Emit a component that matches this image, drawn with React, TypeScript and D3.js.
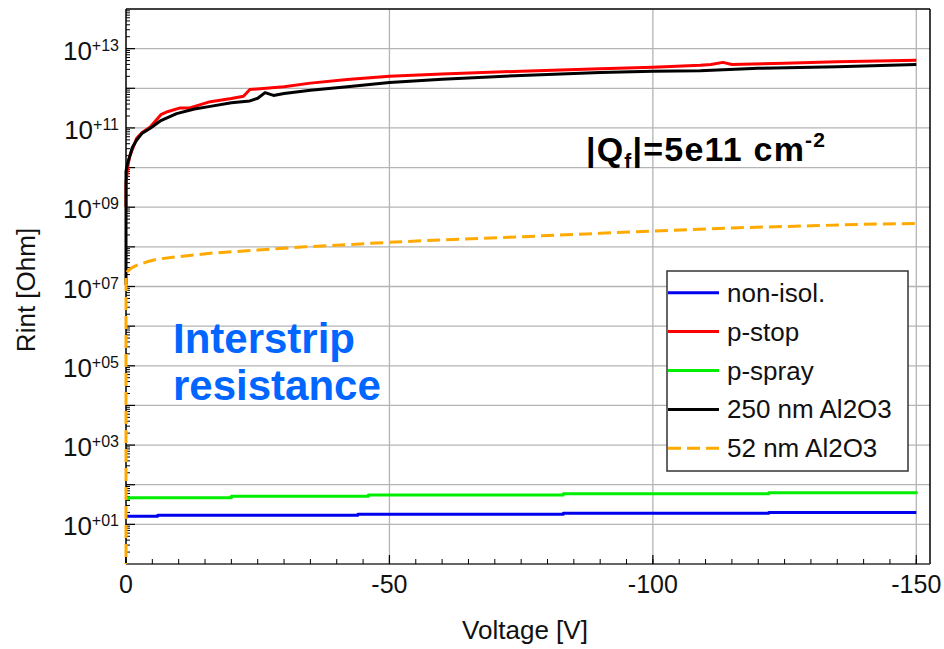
import React from "react";
import * as d3 from "d3";

// ---------- data ----------
const nonIsolV = [0, -6, -44, -83, -122, -150];
const nonIsolR = [16, 17, 18, 19, 20, 20];

const pSprayV = [0, -0.5, -20, -46, -83, -122, -150];
const pSprayR = [44, 47, 51, 55, 59, 63, 67];

const pStopV = [0, 0, -0.3, -0.7, -2, -3, -4.6, -6.7, -8, -10.3, -12.1, -16, -20, -22.3, -23.5, -30, -35, -42, -50, -60, -75, -90, -100, -109, -111, -113.3, -115, -125, -135, -150];
const pStopR = [1e9, 4e9, 1e10, 1.9e10, 5.4e10, 7.6e10, 1.05e11, 2.2e11, 2.6e11, 3.2e11, 3.2e11, 4.6e11, 5.5e11, 6.3e11, 9.3e11, 1.1e12, 1.35e12, 1.66e12, 2.0e12, 2.3e12, 2.7e12, 3.1e12, 3.4e12, 3.8e12, 4.0e12, 4.5e12, 4.0e12, 4.3e12, 4.7e12, 5.1e12];

const al250V = [0, 0, -0.3, -0.7, -1.2, -2, -3, -4.6, -6.5, -9.6, -13, -16, -20, -23.5, -25, -26.4, -28, -30, -35, -42, -50, -60, -75, -90, -100, -109, -120, -135, -150];
const al250R = [1.1e7, 7.9e9, 1.3e10, 1.9e10, 3.2e10, 4.9e10, 7.2e10, 9.8e10, 1.5e11, 2.3e11, 3.0e11, 3.5e11, 4.3e11, 4.8e11, 5.6e11, 7.8e11, 6.6e11, 7.4e11, 8.9e11, 1.1e12, 1.4e12, 1.7e12, 2.1e12, 2.5e12, 2.7e12, 2.75e12, 3.2e12, 3.5e12, 4.0e12];

const al52V = [0, 0, -0.3, -1, -2, -4, -6, -9.6, -16, -25, -34, -50, -60, -75, -90, -100, -115, -130, -140, -150];
const al52R = [0.5, 2e7, 2.4e7, 2.9e7, 3.4e7, 4.2e7, 4.9e7, 5.6e7, 6.9e7, 8.3e7, 1.0e8, 1.3e8, 1.5e8, 1.8e8, 2.2e8, 2.5e8, 3.0e8, 3.4e8, 3.7e8, 3.9e8];

const xTickValues = [0, -50, -100, -150];
const xTickLabels = ["0", "-50", "-100", "-150"];
const yLabelExps = [1, 3, 5, 7, 9, 11, 13];
const yLabelTexts = ["+01", "+03", "+05", "+07", "+09", "+11", "+13"];

const legendLabels = ["non-isol.", "p-stop", "p-spray", "250 nm Al2O3", "52 nm Al2O3"];

// ---------- layout ----------
const W = 944, H = 649;
const L = 126, R = 930, T = 9, B = 564;

export default function App() {
  const x = d3.scaleLinear().domain([0, -152.6]).range([L, R]);
  const y = d3.scaleLog().domain([1, 1e14]).range([B, T]);

  const series = [
    { name: legendLabels[0], V: nonIsolV, R: nonIsolR, color: "#0000ee", dash: "", step: true },
    { name: legendLabels[2], V: pSprayV, R: pSprayR, color: "#00ee00", dash: "", step: true },
    { name: legendLabels[1], V: pStopV, R: pStopR, color: "#ff0000", dash: "", step: false },
    { name: legendLabels[3], V: al250V, R: al250R, color: "#000000", dash: "", step: false },
    { name: legendLabels[4], V: al52V, R: al52R, color: "#ffaa00", dash: "13,6", step: false },
  ];

  const legendItems = [
    { name: legendLabels[0], color: "#0000ee", dash: "" },
    { name: legendLabels[1], color: "#ff0000", dash: "" },
    { name: legendLabels[2], color: "#00ee00", dash: "" },
    { name: legendLabels[3], color: "#000000", dash: "" },
    { name: legendLabels[4], color: "#ffaa00", dash: "13,6" },
  ];

  const decades = d3.range(1, 14);
  const minorY: number[] = [];
  for (let e = 0; e < 14; e++) for (let k = 2; k <= 9; k++) minorY.push(k * Math.pow(10, e));
  const minorX = d3.range(0, -151, -5);

  const font = "'Liberation Sans', Arial, sans-serif";

  return (
    <svg width={W} height={H} style={{ position: "absolute", left: 0, top: 0, background: "#fff" }} fontFamily={font}>
      <defs>
        <clipPath id="plotclip">
          <rect x={L - 3} y={T} width={R - L + 3} height={B - T} />
        </clipPath>
      </defs>
      <rect x={0} y={0} width={W} height={H} fill="#fff" />
      {/* grid */}
      {decades.map((e) => (
        <line key={"gy" + e} x1={L} x2={R} y1={y(Math.pow(10, e))} y2={y(Math.pow(10, e))} stroke="#b4b4b4" strokeWidth={1.3} />
      ))}
      {xTickValues.slice(1).map((v) => (
        <line key={"gx" + v} x1={x(v)} x2={x(v)} y1={T} y2={B} stroke="#b4b4b4" strokeWidth={1.3} />
      ))}
      {/* frame */}
      <line x1={L} x2={R} y1={T} y2={T} stroke="#000" strokeWidth={1.5} />
      <line x1={R} x2={R} y1={T} y2={B} stroke="#000" strokeWidth={1.5} />
      <line x1={L} x2={R} y1={B} y2={B} stroke="#333" strokeWidth={1.5} />
      <line x1={L} x2={L} y1={T} y2={B} stroke="#000" strokeWidth={1.5} />
      {/* ticks */}
      {minorY.map((v, i) => (
        <line key={"my" + i} x1={L} x2={L + 4} y1={y(v)} y2={y(v)} stroke="#000" strokeWidth={1} />
      ))}
      {decades.map((e) => (
        <line key={"My" + e} x1={L} x2={L + 9} y1={y(Math.pow(10, e))} y2={y(Math.pow(10, e))} stroke="#000" strokeWidth={1.2} />
      ))}
      {minorX.map((v) => (
        <line key={"mx" + v} x1={x(v)} x2={x(v)} y1={B} y2={B - 5} stroke="#000" strokeWidth={1} />
      ))}
      {xTickValues.map((v) => (
        <line key={"Mx" + v} x1={x(v)} x2={x(v)} y1={B} y2={B - 9} stroke="#000" strokeWidth={1.2} />
      ))}
      {/* curves */}
      <g clipPath="url(#plotclip)">
        {series.map((s) => {
          const pts = s.V.map((v, i) => [v, s.R[i]] as [number, number]);
          const line = d3
            .line<[number, number]>()
            .x((d) => x(d[0]))
            .y((d) => y(Math.max(d[1], 0.1)))
            .curve(s.step ? d3.curveStepAfter : d3.curveLinear);
          return (
            <path key={s.name} d={line(pts) || ""} fill="none" stroke={s.color} strokeWidth={3} strokeDasharray={s.dash || undefined} strokeLinejoin="round" />
          );
        })}
      </g>
      {/* y tick labels */}
      {yLabelExps.map((e, i) => (
        <text key={"yl" + e} x={119} y={y(Math.pow(10, e)) + 11} textAnchor="end" fontSize={26} fill="#111">
          <tspan>10</tspan>
          <tspan fontSize={16} dy={-9}>{yLabelTexts[i]}</tspan>
        </text>
      ))}
      {/* x tick labels */}
      {xTickValues.map((v, i) => (
        <text key={"xl" + v} x={x(v)} y={593} textAnchor="middle" fontSize={25} fill="#111">
          {xTickLabels[i]}
        </text>
      ))}
      {/* axis titles */}
      <text x={525} y={639} textAnchor="middle" fontSize={26} fill="#111">Voltage [V]</text>
      <text transform="translate(35,290) rotate(-90)" textAnchor="middle" fontSize={26} fill="#111">Rint [Ohm]</text>
      {/* annotations */}
      <text x={173} y={353} fontSize={42} fontWeight="bold" fill="#0066ff">Interstrip</text>
      <text x={173} y={400} fontSize={42} fontWeight="bold" fill="#0066ff">resistance</text>
      <text x={586} y={161} fontSize={34} fontWeight="bold" fill="#000" letterSpacing={1.2}>
        <tspan>|Q</tspan>
        <tspan fontSize={21} dy={7}>f</tspan>
        <tspan dy={-7}>|=5e11 cm</tspan>
        <tspan fontSize={21} dy={-14}>-2</tspan>
      </text>
      {/* legend */}
      <rect x={667} y={271} width={241} height={200} fill="#fff" stroke="#333" strokeWidth={1.5} />
      {legendItems.map((it, i) => {
        const ry = 292.7 + i * 38.9;
        return (
          <g key={"lg" + i}>
            <line x1={668} x2={719} y1={ry} y2={ry} stroke={it.color} strokeWidth={3} strokeDasharray={it.dash || undefined} />
            <text x={727} y={ry + 9} fontSize={26} fill="#111">{it.name}</text>
          </g>
        );
      })}
    </svg>
  );
}
